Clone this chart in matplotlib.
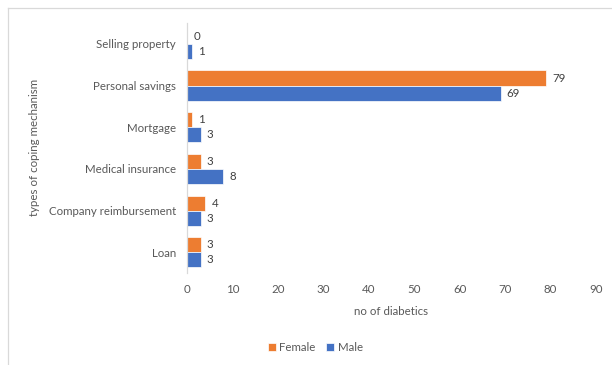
import matplotlib
matplotlib.use("Agg")
import matplotlib.pyplot as plt
import numpy as np

plt.rcParams["font.family"] = ["Lato", "DejaVu Sans"]

# coping mechanisms, bottom to top as drawn
categories = ["Loan", "Company reimbursement", "Medical insurance",
              "Mortgage", "Personal savings", "Selling property"]
female = [3, 4, 3, 1, 79, 0]
male = [3, 3, 8, 3, 69, 1]
xticks = list(range(0, 100, 10))

ORANGE = "#ED7D31"
BLUE = "#4472C4"
GRAY = "#595959"
FS = 8.3

fig = plt.figure(figsize=(6.12, 3.65), dpi=100)
ax = fig.add_axes([0.3056, 0.252, 0.6683, 0.685])

y = np.arange(len(categories))
h = 0.36
bf = ax.barh(y + h / 2, female, height=h, color=ORANGE, edgecolor="white",
             linewidth=0.5, label="Female")
bm = ax.barh(y - h / 2, male, height=h, color=BLUE, edgecolor="white",
             linewidth=0.5, label="Male")

for bars in (bf, bm):
    for b in bars:
        w = b.get_width()
        ax.annotate(f"{w:g}", (w, b.get_y() + b.get_height() / 2),
                    xytext=(4.5, 0), textcoords="offset points",
                    ha="left", va="center", fontsize=FS, color="#404040")

ax.set_xlim(0, 90)
ax.set_ylim(-0.5, len(categories) - 0.5)
ax.set_xticks(xticks)
ax.set_yticks(y)
ax.set_yticklabels(categories)
ax.tick_params(axis="both", length=0, labelsize=FS, labelcolor=GRAY)
ax.tick_params(axis="x", pad=8)
ax.tick_params(axis="y", pad=8)

for s in ("top", "right", "bottom"):
    ax.spines[s].set_visible(False)
ax.spines["left"].set_color("#D9D9D9")
ax.spines["left"].set_linewidth(0.9)

ax.set_xlabel("no of diabetics", fontsize=FS, color=GRAY, labelpad=8)
fig.text(0.057, 0.595, "types of coping mechanism", rotation=90,
         ha="center", va="center", fontsize=FS, color=GRAY)

fig.legend(handles=[bf, bm], loc="center", bbox_to_anchor=(0.515, 0.048),
           ncol=2, frameon=False, fontsize=FS, labelcolor=GRAY,
           handlelength=0.7, handleheight=0.7, handletextpad=0.3,
           columnspacing=0.9)

# chart border (only top and left edges fall inside the image)
fig.add_artist(plt.Line2D([0.013, 1.0], [0.978, 0.978], color="#D9D9D9",
                          linewidth=0.9, transform=fig.transFigure))
fig.add_artist(plt.Line2D([0.013, 0.013], [0.0, 0.978], color="#D9D9D9",
                          linewidth=0.9, transform=fig.transFigure))

fig.savefig("out.png", dpi=100)
